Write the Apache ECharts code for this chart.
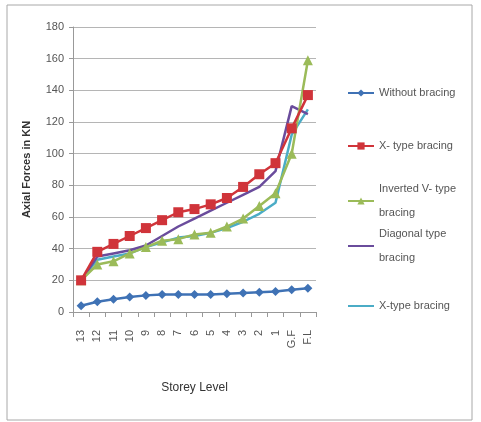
<!DOCTYPE html>
<html><head><meta charset="utf-8">
<script src="https://cdn.jsdelivr.net/npm/echarts@6/dist/echarts.min.js"></script>
<style>html,body{margin:0;padding:0;background:#fff}#c{width:481px;height:422px}</style>
</head><body><div id="c"></div>
<script>
var categories = ['13','12','11','10','9','8','7','6','5','4','3','2','1','G.F','F.L'];
var withoutBracing = [4, 6.5, 8, 9.5, 10.5, 11, 11, 11, 11, 11.5, 12, 12.5, 13, 14, 15];
var xTypeBracing = [20, 38, 43, 48, 53, 58, 63, 65, 68, 72, 79, 87, 94, 116, 137];
var invertedVBracing = [20, 30, 32, 37, 41, 45, 46, 49, 50, 54, 59, 67, 75, 100, 159];
var diagonalBracing = [20, 35, 37, 39, 42, 48, 54, 59, 64, 69, 74, 79, 89, 130, 125];
var xTypeBracing2 = [20, 33, 35, 37, 41, 44, 47, 48, 50, 53, 57, 62, 69, 112, 128];
var seriesNames = ['Without bracing','X- type bracing','Inverted V- type\nbracing','Diagonal type\nbracing','X-type bracing'];
var yTicks = {min:0, max:180, interval:20};

var font = '"Liberation Sans Narrow", "Liberation Sans", Arial, sans-serif';
var colors = ['#3f72b5','#d0343a','#9bbb59','#6a4c9c','#4bacc6'];
var symbols = ['diamond','rect','triangle','none','none'];
var symbolSizes = [9, 10, 10, 0, 0];
var datas = [withoutBracing, xTypeBracing, invertedVBracing, diagonalBracing, xTypeBracing2];
var legendTops = [76, 129, 172, 217, 289];

var chart = echarts.init(document.getElementById('c'));
var series = datas.map(function(d, i){
  return {
    name: seriesNames[i], type:'line', data:d,
    symbol: symbols[i], symbolSize: symbolSizes[i], showSymbol: symbols[i] !== 'none',
    lineStyle:{width:2.5, color:colors[i]}, itemStyle:{color:colors[i]},
    z: 10 - i, animation:false
  };
});
var legends = seriesNames.map(function(n, i){
  var l = {
    data:[n], left:342, top:legendTops[i], orient:'vertical',
    itemWidth:26, itemHeight:9, itemGap:4,
    textStyle:{fontFamily:font, fontSize:11, color:'#555', lineHeight:24}
  };
  if (symbols[i] === 'none') { l.itemStyle = {opacity:0}; }
  return l;
});
chart.setOption({
  animation:false,
  color: colors,
  graphic:[{type:'rect', shape:{x:7,y:5,width:465,height:415}, style:{fill:'none', stroke:'#a8a8a8', lineWidth:1}, silent:true}],
  grid:{left:73, right:165, top:27, bottom:110},
  legend: legends,
  xAxis:{
    type:'category', data:categories, boundaryGap:true,
    name:'Storey Level', nameLocation:'middle', nameGap:70,
    nameTextStyle:{fontFamily:font, fontSize:12, color:'#333'},
    axisLine:{lineStyle:{color:'#999'}},
    axisTick:{show:true, length:5, lineStyle:{color:'#999'}},
    axisLabel:{rotate:90, margin:18, fontFamily:font, fontSize:11, color:'#555', interval:0},
    splitLine:{show:false}
  },
  yAxis:{
    type:'value', min:yTicks.min, max:yTicks.max, interval:yTicks.interval,
    name:'Axial Forces in KN', nameLocation:'middle', nameGap:41,
    nameTextStyle:{fontFamily:font, fontSize:11, fontWeight:'bold', color:'#333'},
    axisLine:{show:true, lineStyle:{color:'#999'}},
    axisTick:{show:true, length:4, lineStyle:{color:'#999'}},
    axisLabel:{margin:9, fontFamily:font, fontSize:11, color:'#555'},
    splitLine:{lineStyle:{color:'#b5b5b5', width:1}}
  },
  series: series
});
</script></body></html>
